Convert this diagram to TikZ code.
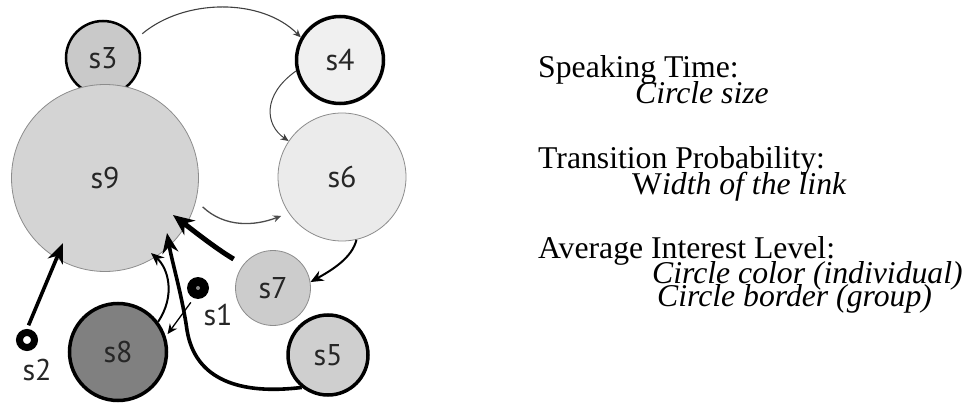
\documentclass[tikz,border=0pt]{standalone}
\usepackage{fontspec}
\setmainfont{Liberation Serif}
\newfontfamily\lblfont{PT Sans}
\usetikzlibrary{arrows.meta,calc}
\begin{document}
\begin{tikzpicture}[x=1pt,y=-1pt,
  state/.style={circle,inner sep=0pt,font=\lblfont\fontsize{30}{30}\selectfont,text=black!85},
  grp/.style={draw=black,line width=3.5pt},
  ind/.style={draw=black!45,line width=0.8pt},
  lbl/.style={inner sep=0pt,font=\lblfont\fontsize{30}{30}\selectfont,text=black!85},
  legend/.style={anchor=base west,inner sep=0pt,font=\fontsize{31.7}{32}\selectfont},
  thinarr/.style={line width=1.1pt,draw=black!75,-{Stealth[length=8pt,width=7pt]}},
  medarr/.style={line width=2pt,draw=black,-{Stealth[length=13pt,width=11pt]}},
  thickarr/.style={line width=3.6pt,draw=black,-{Stealth[length=20pt,width=16pt]}},
  heavyarr/.style={line width=5pt,draw=black,-{Stealth[length=21pt,width=18pt]}}]
\useasboundingbox (0,0) rectangle (966,406);
% states
\node[state,grp,line width=2.5pt,fill=black!21,minimum size=74pt] (s3) at (103,58) {s3};
\node[state,grp,fill=black!6,minimum size=87pt] (s4) at (340,60) {s4};
\node[state,ind,fill=black!17,minimum size=187pt] (s9) at (105,178) {s9};
\node[state,ind,fill=black!8,minimum size=128pt] (s6) at (342,177) {s6};
\node[state,ind,fill=black!20,minimum size=75pt] (s7) at (273,288) {s7};
\node[state,grp,fill=black!19,minimum size=80pt] (s5) at (328,355) {s5};
\node[state,grp,fill=black!50,minimum size=97pt] (s8) at (118,352) {s8};
% sources
\node[circle,draw=black,line width=7pt,fill=white,minimum size=15pt,inner sep=0pt] (s2) at (27,340) {};
\node[circle,fill=black,minimum size=22pt,inner sep=0pt] (s1) at (198,288) {};
\node[circle,fill=black!45,minimum size=4pt,inner sep=0pt] (s1c) at (s1) {};
\node[lbl] (l1) at (218,315) {s1};
\node[lbl] (l2) at (37,370) {s2};
% connectors
\draw[thinarr,shorten <=8pt] (s3.30) .. controls (185,-2) and (262,-2) .. (s4.150);
\draw[thinarr,line width=1pt] (s4.194) .. controls (262,95) and (265,125) .. (s6.146);
\draw[thinarr,line width=1.3pt,draw=black!70,shorten <=9pt,shorten >=8pt] (s9.-14) .. controls (225,228) and (255,226) .. (s6.214);
\draw[medarr] (s6.-77) .. controls (352,258) and (332,270) .. (s7.9);
\draw[heavyarr,shorten <=11pt] (s7.142) .. controls (215,248) and (190,228) .. ($(s9)+(68,37)$);
\draw[thickarr] (s5.231) .. controls (240,395) and (195,380) .. (187,330) .. controls (182,295) and (172,262) .. ($(s9)+(62,55)$);
\draw[medarr] (s8.37) .. controls (176,295) and (168,268) .. ($(s9)+(46,75)$);
\draw[thinarr,line width=1.3pt,draw=black,-{Stealth[length=10pt,width=9pt]},shorten <=5pt,shorten >=3pt] (s1.248) -- (s8.18);
\draw[thickarr,shorten <=4pt] (s2.north) -- ($(s9)+(-42,65)$);
% legend
\node[legend] (t1) at (538,78) {Speaking Time:};
\node[legend] (t2) at (635,104) {\textit{Circle size}};
\node[legend] (t3) at (538,169) {Transition Probability:};
\node[legend] (t4) at (632,195) {W\textit{idth of the link}};
\node[legend] (t5) at (538,258) {Average Interest Level:};
\node[legend] (t6) at (652,283) {\textit{Circle color (individual)}};
\node[legend] (t7) at (657,306) {\textit{Circle border (group)}};
\end{tikzpicture}
\end{document}
